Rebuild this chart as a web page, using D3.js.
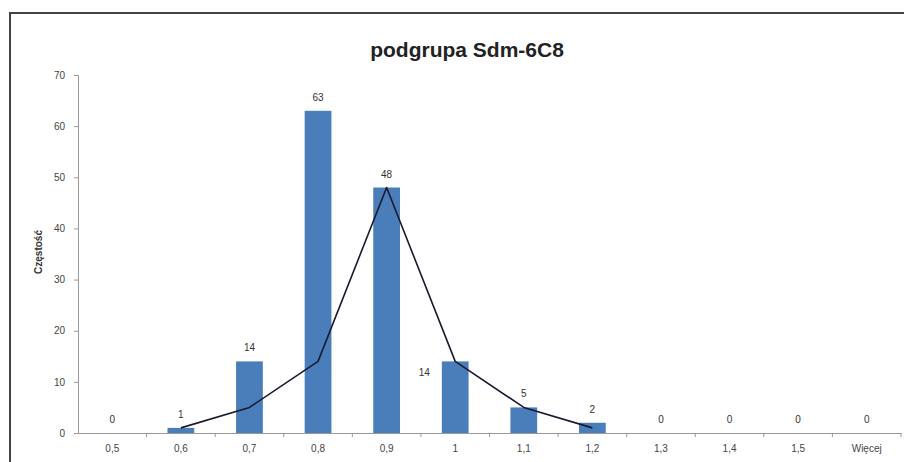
<!DOCTYPE html>
<html><head><meta charset="utf-8">
<script src="https://cdn.jsdelivr.net/npm/d3@7"></script>
<style>body{margin:0;background:#fff}svg{display:block}text{font-family:"Liberation Sans",Arial,sans-serif}</style>
</head><body><svg id="c" width="904" height="462"></svg>
<script>
const categories = ["0,5","0,6","0,7","0,8","0,9","1","1,1","1,2","1,3","1,4","1,5","Więcej"];
const counts = [0,1,14,63,48,14,5,2,0,0,0,0];
const trend = [null,1,5,14,48,14,5,1,null,null,null,null];
const yTicks = [0,10,20,30,40,50,60,70];
const title = "podgrupa Sdm-6C8";
const yLabel = "Częstość";

const svg = d3.select("#c");
svg.append("rect").attr("x",10).attr("y",13).attr("width",904).attr("height",470)
  .attr("fill","#fff").attr("stroke","#444").attr("stroke-width",2);

const m = {l:78, r:901, t:75, b:433};
const x = d3.scaleBand().domain(categories).range([m.l, m.r]).paddingInner(0.61).paddingOuter(0.305);
const y = d3.scaleLinear().domain([0,70]).range([m.b, m.t]);

svg.append("text").attr("x",467).attr("y",57).attr("text-anchor","middle")
  .attr("font-size",21).attr("font-weight","bold").attr("fill","#222").text(title);

const ya = svg.append("g").attr("transform",`translate(${m.l},0)`)
  .call(d3.axisLeft(y).tickValues(yTicks).tickSize(4).tickPadding(9));
ya.select(".domain").attr("stroke","#999");
ya.selectAll(".tick line").attr("stroke","#999");
ya.selectAll("text").attr("font-size",10).attr("fill","#444");

svg.append("text").attr("transform","translate(42,252) rotate(-90)").attr("text-anchor","middle")
  .attr("font-size",10).attr("font-weight","bold").attr("fill","#333").text(yLabel);

const xa = svg.append("g").attr("transform",`translate(0,${m.b})`)
  .call(d3.axisBottom(x).tickSize(0).tickPadding(12));
xa.select(".domain").attr("stroke","#999");
xa.selectAll("text").attr("font-size",10).attr("fill","#444");
const step = x.step();
svg.append("g").selectAll("line").data(categories).join("line")
  .attr("x1",d=>x(d)+x.bandwidth()/2+step/2).attr("x2",d=>x(d)+x.bandwidth()/2+step/2)
  .attr("y1",m.b).attr("y2",m.b+4).attr("stroke","#999");

svg.append("g").selectAll("rect").data(counts).join("rect")
  .attr("x",(d,i)=>x(categories[i])).attr("width",x.bandwidth())
  .attr("y",d=>y(d)).attr("height",d=>m.b-y(d)).attr("fill","#4a7ebb");

const line = d3.line().defined(d=>d!=null)
  .x((d,i)=>x(categories[i])+x.bandwidth()/2).y(d=>y(d));
svg.append("path").datum(trend).attr("d",line).attr("fill","none")
  .attr("stroke","#1a1a2e").attr("stroke-width",1.6).attr("stroke-linejoin","round");

svg.append("g").selectAll("text").data(counts).join("text")
  .attr("x",(d,i)=> categories[i]==="1" ? x(categories[i])-12 : x(categories[i])+x.bandwidth()/2)
  .attr("y",(d,i)=> categories[i]==="1" ? y(d)+15 : y(d)-10)
  .attr("text-anchor",(d,i)=> categories[i]==="1" ? "end" : "middle")
  .attr("font-size",10).attr("fill","#333").text(d=>d);
</script></body></html>
